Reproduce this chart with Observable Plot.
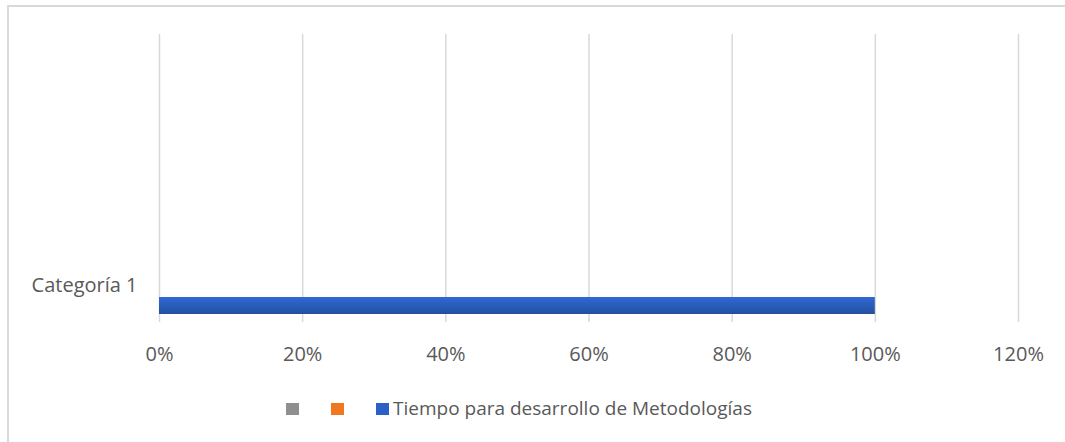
<!DOCTYPE html>
<html>
<head>
<meta charset="utf-8">
<script src="https://cdn.jsdelivr.net/npm/d3@7"></script>
<script src="https://cdn.jsdelivr.net/npm/@observablehq/plot@0.6"></script>
<style>
  html, body { margin: 0; padding: 0; background: #fff; overflow: hidden; }
  #frame {
    position: absolute; left: 7px; top: 5px; width: 1080px; height: 460px;
    border: 2px solid #d9d9d9; box-sizing: border-box; background: #fff;
  }
  #chart { position: absolute; left: 0; top: 0; }
  #legend {
    position: absolute; left: 0; top: 390px; width: 1056px; height: 24px;
    font-family: "Open Sans", sans-serif; font-size: 19px; color: #595959;
  }
  .sw { position: absolute; top: 6px; width: 13px; height: 12px; }
  .lt { position: absolute; top: -1px; white-space: nowrap; line-height: 24px; }
</style>
</head>
<body>
<div id="frame">
  <div id="chart"></div>
  <div id="legend"></div>
</div>
<script>
const categories = ["Categoría 1"];
const seriesNames = ["", "", "Tiempo para desarrollo de Metodologías"];
const seriesColors = ["#8f8f8f", "#ef7820", "#2c60c6"];
const seriesValues = [0, 0, 1.0];
const xTicks = [0, 0.2, 0.4, 0.6, 0.8, 1.0, 1.2];

const rows = seriesNames.map((name, i) => ({
  category: categories[0], series: name, value: seriesValues[i], color: seriesColors[i]
}));

const W = 1056, H = 385;
const plot = Plot.plot({
  width: W, height: H,
  marginLeft: 150, marginRight: 47, marginTop: 27, marginBottom: 70,
  style: { fontFamily: "'Open Sans', sans-serif", fontSize: "20px", color: "#595959", background: "transparent" },
  x: { domain: [0, 1.2], ticks: xTicks, tickFormat: d => Math.round(d * 100) + "%", label: null },
  y: { domain: categories, padding: 0, label: null },
  marks: [
    Plot.gridX(xTicks, { stroke: "#d9d9d9", strokeOpacity: 1, strokeWidth: 1.5 }),
    Plot.axisX({ ticks: xTicks, tickFormat: d => Math.round(d * 100) + "%", tickSize: 0, tickPadding: 24, fontSize: 20, fill: "#595959", label: null }),
    Plot.axisY({ tickSize: 0, tickPadding: 22, dy: 107, fontSize: 20, fill: "#595959", label: null }),
    Plot.barX(rows, { x1: 0, x2: "value", y: "category", fill: "color", insetTop: 263, insetBottom: 8 })
  ]
});
document.getElementById("chart").appendChild(plot);

// gradient for bar look
const svg = d3.select(plot);
const defs = svg.insert("defs", ":first-child");
const grad = defs.append("linearGradient").attr("id", "gblue").attr("x1", 0).attr("x2", 0).attr("y1", 0).attr("y2", 1);
grad.append("stop").attr("offset", "0%").attr("stop-color", "#3169d4");
grad.append("stop").attr("offset", "100%").attr("stop-color", "#22509f");
svg.selectAll("rect").filter(function () { return this.getAttribute("fill") === seriesColors[2]; }).attr("fill", "url(#gblue)");

// legend
const legend = document.getElementById("legend");
const swX = [277, 322, 367];
seriesNames.forEach((name, i) => {
  const s = document.createElement("div");
  s.className = "sw"; s.style.left = swX[i] + "px"; s.style.background = seriesColors[i];
  legend.appendChild(s);
  if (name) {
    const t = document.createElement("div");
    t.className = "lt"; t.style.left = (swX[i] + 17) + "px"; t.textContent = name;
    legend.appendChild(t);
  }
});
</script>
</body>
</html>
